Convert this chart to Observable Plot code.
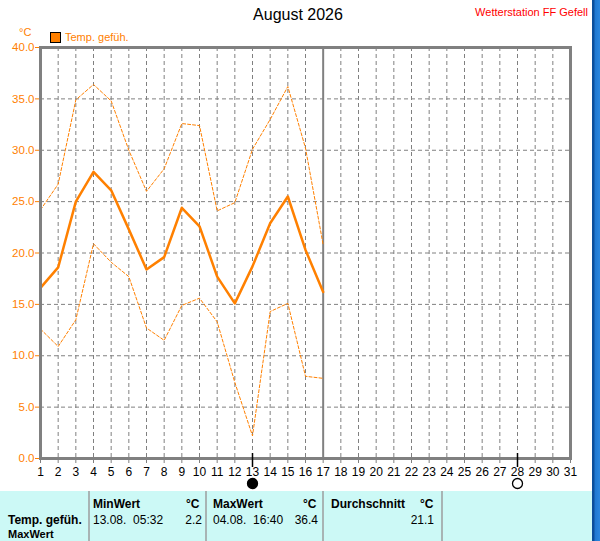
<!DOCTYPE html>
<html>
<head>
<meta charset="utf-8">
<script src="https://cdn.jsdelivr.net/npm/d3@7"></script>
<script src="https://cdn.jsdelivr.net/npm/@observablehq/plot@0.6"></script>
<style>
  body { margin: 0; background: #fff; }
  #wrap { position: relative; width: 600px; height: 541px; overflow: hidden; background: #fff; font-family: "Liberation Sans", Arial, sans-serif; }
  #wrap svg { position: absolute; left: 0; top: 0; }
  .t { position: absolute; white-space: pre; line-height: 1; }
</style>
</head>
<body>
<div id="wrap"></div>
<script>
// ---- data ----
const days = [1,2,3,4,5,6,7,8,9,10,11,12,13,14,15,16,17];
const tempMean = [16.6,18.6,25.0,27.9,26.1,22.3,18.4,19.6,24.4,22.6,17.7,15.1,18.7,22.9,25.5,20.3,16.2];
const tempMax  = [24.2,26.7,34.9,36.4,34.8,30.0,26.0,28.2,32.6,32.4,24.1,24.9,30.1,33.0,36.2,30.2,20.8];
const tempMin  = [12.6,10.9,13.5,20.9,19.1,17.7,12.7,11.5,14.9,15.6,13.3,7.4,2.2,14.3,15.1,8.0,7.8];
const monthDays = d3.range(1, 32);
const yTicks = [0,5,10,15,20,25,30,35,40];
const currentDay = [17];
const moonDays = [13, 28];
const moonKinds = ["new", "full"];
const title = "August 2026";
const station = "Wetterstation FF Gefell";
const seriesName = "Temp. gefüh.";
const statsHeader = ["MinWert", "MaxWert", "Durchschnitt"];
const statsRow = ["13.08.  05:32", "2.2", "04.08.  16:40", "36.4", "21.1"];

const orange = "#ff8000";
const gray = "#808080";

const rows = days.map((d, i) => ({day: d, mean: tempMean[i], max: tempMax[i], min: tempMin[i]}));
const moons = moonDays.map((d, i) => ({day: d, kind: moonKinds[i]}));

const chart = Plot.plot({
  width: 600,
  height: 491,
  marginLeft: 40,
  marginRight: 30,
  marginTop: 47,
  marginBottom: 33,
  x: {domain: [1, 31], label: null},
  y: {domain: [0, 40], label: null},
  style: {fontFamily: "Liberation Sans, Arial, sans-serif", background: "transparent", overflow: "visible"},
  marks: [
    Plot.ruleX(monthDays.filter(d => d > 1 && d < 31 && !currentDay.includes(d)), {stroke: gray, strokeWidth: 1, strokeDasharray: "4,3"}),
    Plot.ruleY(yTicks.filter(v => v > 0 && v < 40), {stroke: gray, strokeWidth: 1, strokeDasharray: "4,3"}),
    Plot.ruleX(currentDay, {stroke: gray, strokeWidth: 2}),
    Plot.line(rows, {x: "day", y: "max", stroke: orange, strokeWidth: 1, strokeDasharray: "3,2"}),
    Plot.line(rows, {x: "day", y: "min", stroke: orange, strokeWidth: 1, strokeDasharray: "3,2"}),
    Plot.line(rows, {x: "day", y: "mean", stroke: orange, strokeWidth: 2.5}),
    Plot.axisX(monthDays, {label: null, tickSize: 5, tickPadding: 4, stroke: gray, fill: "black", fontSize: 12, tickFormat: d => String(d)}),
    Plot.axisY(yTicks, {label: null, tickSize: 5, tickPadding: 1, stroke: orange, fill: orange, fontSize: 11.5, tickFormat: d => d.toFixed(1)}),
    Plot.frame({stroke: gray, strokeWidth: 3}),
    Plot.ruleX(moons, {x: "day", y1: () => 0, y2: () => 0, insetTop: -5, insetBottom: -9, stroke: "black", strokeWidth: 1.5}),
    Plot.dot(moons, {x: "day", y: () => 0, dy: 25, r: 5, fill: d => d.kind === "new" ? "black" : "white", stroke: "black", strokeWidth: 1.3})
  ]
});

const wrap = document.getElementById("wrap");
wrap.appendChild(chart);

function addText(txt, opts) {
  const s = document.createElement("div");
  s.className = "t";
  s.textContent = txt;
  Object.assign(s.style, opts);
  wrap.appendChild(s);
  return s;
}
function addBox(opts) {
  const b = document.createElement("div");
  b.style.position = "absolute";
  Object.assign(b.style, opts);
  wrap.appendChild(b);
  return b;
}

// Header texts
addText(title, {left: "0px", width: "596px", textAlign: "center", top: "7px", fontSize: "16px", color: "#000"});
addText(station, {right: "12px", top: "7px", fontSize: "11px", color: "#ff0000"});
addText("°C", {left: "19px", top: "27px", fontSize: "11px", color: orange});
addBox({left: "50px", top: "32px", width: "9px", height: "9px", background: orange, border: "1px solid #000"});
addText(seriesName, {left: "65px", top: "32px", fontSize: "11px", color: orange});

// Stats table
addBox({left: "0px", top: "491px", width: "592px", height: "50px", background: "#ccf9f6"});
[88, 205, 322, 441].forEach(x => addBox({left: x + "px", top: "491px", width: "2px", height: "50px", background: "#a8b4b4"}));
const hdrTop = "498px", rowTop = "514px", row3Top = "529px";
addText(statsHeader[0], {left: "93px", top: hdrTop, fontSize: "12px", fontWeight: "bold"});
addText("°C", {left: "186px", top: hdrTop, fontSize: "12px", fontWeight: "bold"});
addText(statsHeader[1], {left: "213px", top: hdrTop, fontSize: "12px", fontWeight: "bold"});
addText("°C", {left: "303px", top: hdrTop, fontSize: "12px", fontWeight: "bold"});
addText(statsHeader[2], {left: "331px", top: hdrTop, fontSize: "12px", fontWeight: "bold"});
addText("°C", {left: "420px", top: hdrTop, fontSize: "12px", fontWeight: "bold"});
addText(seriesName, {left: "8px", top: rowTop, fontSize: "12px", fontWeight: "bold"});
addText(statsRow[0], {left: "93px", top: rowTop, fontSize: "12px"});
addText(statsRow[1], {right: (600 - 202) + "px", top: rowTop, fontSize: "12px"});
addText(statsRow[2], {left: "213px", top: rowTop, fontSize: "12px"});
addText(statsRow[3], {right: (600 - 318) + "px", top: rowTop, fontSize: "12px"});
addText(statsRow[4], {right: (600 - 434) + "px", top: rowTop, fontSize: "12px"});
addText(statsHeader[1], {left: "8px", top: row3Top, fontSize: "11px", fontWeight: "bold"});

// right window strip
addBox({left: "592px", top: "0px", width: "8px", height: "541px", background: "linear-gradient(90deg, #0b4f9c 0, #0b4f9c 2px, #1f78d1 3px, #2a86de 8px)"});
</script>
</body>
</html>
